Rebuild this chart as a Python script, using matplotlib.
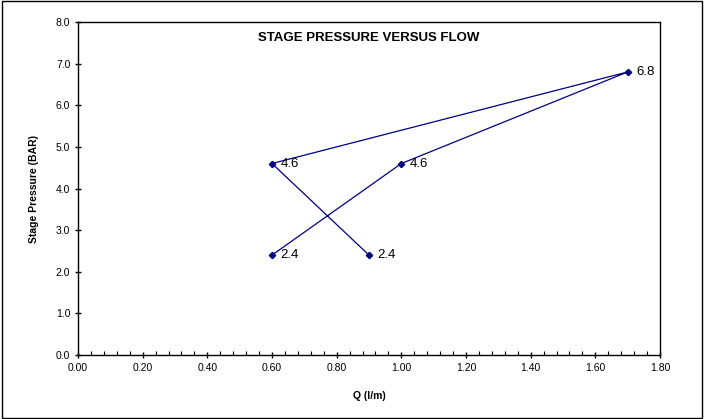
import matplotlib
matplotlib.use("Agg")
import matplotlib.pyplot as plt
from matplotlib.ticker import MultipleLocator, FormatStrFormatter
from matplotlib.patches import Rectangle

plt.rcParams['font.family'] = ['Liberation Sans', 'DejaVu Sans']

# flow (l/m) and stage pressure (BAR), in plotting order
flow = [0.60, 1.00, 1.70, 0.60, 0.90]
pressure = [2.4, 4.6, 6.8, 4.6, 2.4]
title = "STAGE PRESSURE VERSUS FLOW"

fig = plt.figure(figsize=(7.04, 4.19), dpi=100)
ax = fig.add_axes([78 / 704, 1 - 355 / 419, (660 - 78) / 704, (355 - 22) / 419])

ax.plot(flow, pressure, color='#000080', linewidth=0.9, marker='D', markersize=3.2,
        markerfacecolor='#000080', markeredgecolor='#000080')
for x, y in zip(flow, pressure):
    ax.annotate(f"{y:.1f}", (x, y), xytext=(6, 0), textcoords='offset points',
                va='center', ha='left', fontsize=9.5)

ax.set_xlim(0, 1.8)
ax.set_ylim(0, 8)
ax.xaxis.set_major_locator(MultipleLocator(0.2))
ax.xaxis.set_minor_locator(MultipleLocator(0.04))
ax.yaxis.set_major_locator(MultipleLocator(1.0))
ax.xaxis.set_major_formatter(FormatStrFormatter('%.2f'))
ax.yaxis.set_major_formatter(FormatStrFormatter('%.1f'))
ax.tick_params(which='major', direction='inout', length=5, width=1, labelsize=7.5)
ax.tick_params(axis='x', which='major', pad=3)
ax.tick_params(axis='x', which='minor', direction='in', length=3, width=0.8)
ax.tick_params(axis='y', which='major', pad=3)
for s in ax.spines.values():
    s.set_linewidth(1)
    s.set_color('black')

ax.set_xlabel("Q (l/m)", fontsize=7.5, fontweight='bold', labelpad=13)
ax.set_ylabel("Stage Pressure (BAR)", fontsize=7.5, fontweight='bold', labelpad=12)
ax.text(0.5, 0.97, title, transform=ax.transAxes, ha='center', va='top',
        fontsize=9.5, fontweight='bold')

fig.patches.append(Rectangle((0.003, 0.003), 0.994, 0.994, transform=fig.transFigure,
                             fill=False, edgecolor='black', linewidth=1))

fig.savefig("out.png", dpi=100)
